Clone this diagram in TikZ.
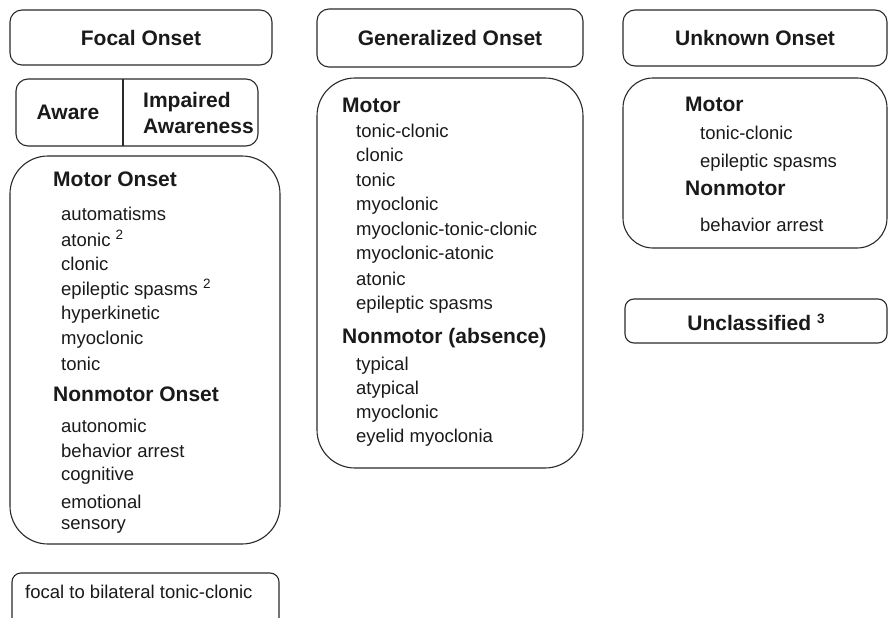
\documentclass[tikz,border=0pt]{standalone}
\usepackage{fontspec}
\setmainfont{Liberation Sans}
\definecolor{linec}{HTML}{2A2A2A}
\definecolor{textc}{HTML}{1A1A1A}
\newcommand{\itemfont}{\fontsize{18.5}{20}\selectfont}
\newcommand{\headfont}{\fontsize{21}{23}\selectfont\bfseries}
\newcommand{\supr}[1]{\raisebox{7pt}{\fontsize{13.5}{14}\selectfont #1}}
\begin{document}
\begin{tikzpicture}[x=1pt,y=-1pt,
  box/.style={draw=linec, line width=1.1pt, inner sep=0pt, rounded corners=12pt},
  bigbox/.style={draw=linec, line width=1.1pt, inner sep=0pt, rounded corners=38pt},
  midbox/.style={draw=linec, line width=1.1pt, inner sep=0pt, rounded corners=30pt},
  smallbox/.style={draw=linec, line width=1.1pt, inner sep=0pt, rounded corners=9pt},
  head/.style={inner sep=0pt, anchor=base west, text=textc, font=\headfont},
  title/.style={inner sep=0pt, anchor=base, text=textc, font=\headfont},
  entry/.style={inner sep=0pt, anchor=base west, text=textc, font=\itemfont}]
\useasboundingbox (0,0) rectangle (889,618);
\clip (0,0) rectangle (889,618);

% ---------- Focal column ----------
\node[box, minimum width=262pt, minimum height=55pt] (focalbox) at (141,37.5) {};
\node[title] (focal) at (141,46) {Focal Onset};

\node[box, minimum width=242pt, minimum height=67pt] (awarebox) at (137,112.5) {};
\draw[draw=linec, line width=1.1pt] (123,79) -- (123,146);
\node[title] (aware) at (68,119) {Aware};
\node[head] (impaired) at (143,107) {Impaired};
\node[head] (awareness) at (143,133) {Awareness};

\node[bigbox, minimum width=270pt, minimum height=388pt] (focalbig) at (145,350) {};
\node[head] (fmotor) at (53,186) {Motor Onset};
\node[entry] (f1) at (61,220) {automatisms};
\node[entry] (f2) at (61,246) {atonic \supr{2}};
\node[entry] (f3) at (61,270) {clonic};
\node[entry] (f4) at (61,295) {epileptic spasms \supr{2}};
\node[entry] (f5) at (61,319) {hyperkinetic};
\node[entry] (f6) at (61,344) {myoclonic};
\node[entry] (f7) at (61,370) {tonic};
\node[head] (fnon) at (53,401) {Nonmotor Onset};
\node[entry] (f8) at (61,432) {autonomic};
\node[entry] (f9) at (61,457) {behavior arrest};
\node[entry] (f10) at (61,480) {cognitive};
\node[entry] (f11) at (61,508) {emotional};
\node[entry] (f12) at (61,529) {sensory};

\node[smallbox, minimum width=267pt, minimum height=80pt] (bilatbox) at (145.5,613) {};
\node[entry] (bilat) at (25,598) {focal to bilateral tonic-clonic};

% ---------- Generalized column ----------
\node[box, minimum width=266pt, minimum height=58pt] (genbox) at (450,38) {};
\node[title] (gen) at (450,45.5) {Generalized Onset};

\node[bigbox, minimum width=266pt, minimum height=390pt] (genbig) at (450,273) {};
\node[head] (gmotor) at (342,112) {Motor};
\node[entry] (g1) at (356,137) {tonic-clonic};
\node[entry] (g2) at (356,161.5) {clonic};
\node[entry] (g3) at (356,186) {tonic};
\node[entry] (g4) at (356,210.5) {myoclonic};
\node[entry] (g5) at (356,235) {myoclonic-tonic-clonic};
\node[entry] (g6) at (356,259.5) {myoclonic-atonic};
\node[entry] (g7) at (356,285) {atonic};
\node[entry] (g8) at (356,309) {epileptic spasms};
\node[head] (gnon) at (342,343) {Nonmotor (absence)};
\node[entry] (g9) at (356,370) {typical};
\node[entry] (g10) at (356,394) {atypical};
\node[entry] (g11) at (356,418) {myoclonic};
\node[entry] (g12) at (356,442) {eyelid myoclonia};

% ---------- Unknown column ----------
\node[box, minimum width=264pt, minimum height=56pt] (unkbox) at (755,38) {};
\node[title] (unk) at (755,46) {Unknown Onset};

\node[midbox, minimum width=264pt, minimum height=170pt] (unkbig) at (755,163) {};
\node[head] (umotor) at (685,111) {Motor};
\node[entry] (u1) at (700,139) {tonic-clonic};
\node[entry] (u2) at (700,167) {epileptic spasms};
\node[head] (unon) at (685,195) {Nonmotor};
\node[entry] (u3) at (700,231) {behavior arrest};

\node[smallbox, minimum width=262pt, minimum height=44pt] (unclbox) at (756,321) {};
\node[title] (uncl) at (756,330) {Unclassified \supr{3}};
\end{tikzpicture}
\end{document}
